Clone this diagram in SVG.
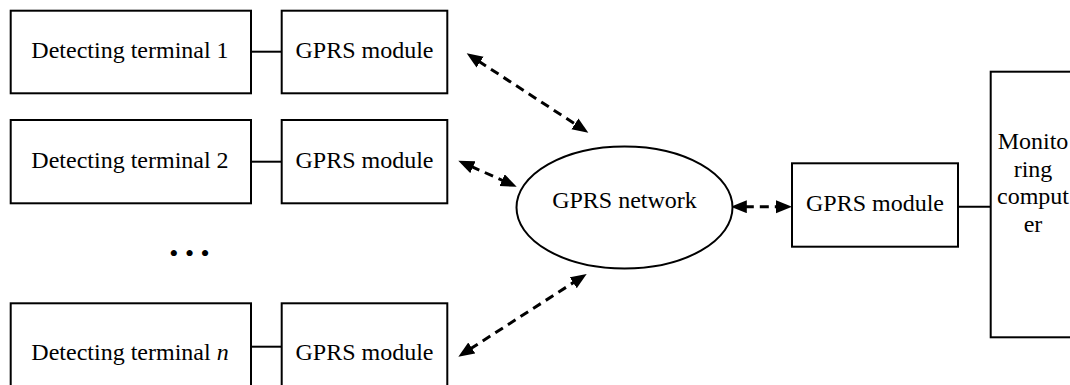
<svg xmlns="http://www.w3.org/2000/svg" width="1070" height="385" viewBox="0 0 1070 385">
<style>
.box{fill:#fff;stroke:#000;stroke-width:2}
.link{stroke:#000;stroke-width:2;fill:none}
.dash{stroke:#000;stroke-width:3;stroke-dasharray:9 6;fill:none;marker-start:url(#ah);marker-end:url(#ah)}
.t{font-family:"Liberation Serif","Times New Roman",serif;font-size:24px;fill:#000;text-anchor:middle}
</style>
<defs>
<marker id="ah" markerUnits="userSpaceOnUse" markerWidth="18" markerHeight="15" refX="2" refY="6.5" orient="auto-start-reverse" viewBox="0 0 18 15">
<path d="M0,0 L16,6.5 L0,13 z" fill="#000"/>
</marker>
</defs>
<rect width="1070" height="385" fill="#fff"/>
<g id="connectors">
<line class="link" x1="251" y1="51.7" x2="281.7" y2="51.7"/>
<line class="link" x1="251" y1="161.7" x2="281.7" y2="161.7"/>
<line class="link" x1="251" y1="346.7" x2="281.7" y2="346.7"/>
<line class="link" x1="958" y1="206.7" x2="990.7" y2="206.7"/>
<line class="dash" x1="478.4" y1="61" x2="576.6" y2="125"/>
<line class="dash" x1="471.1" y1="166.4" x2="503.9" y2="181"/>
<line class="dash" x1="470.1" y1="349.1" x2="574.9" y2="281.6"/>
<line class="dash" x1="744.8" y1="206.7" x2="778" y2="206.7"/>
</g>
<g id="terminal1">
<rect class="box" x="10.7" y="10.7" width="240.3" height="82.6"/>
<text class="t" x="130" y="58.3">Detecting terminal 1</text>
</g>
<g id="gprs1">
<rect class="box" x="281.7" y="10.7" width="165.6" height="82.6"/>
<text class="t" x="364.5" y="58.3">GPRS module</text>
</g>
<g id="terminal2">
<rect class="box" x="10.7" y="120" width="240.3" height="83.3"/>
<text class="t" x="130" y="167.5">Detecting terminal 2</text>
</g>
<g id="gprs2">
<rect class="box" x="281.7" y="120" width="165.6" height="83.3"/>
<text class="t" x="364.5" y="167.5">GPRS module</text>
</g>
<g id="ellipsis">
<text class="t" x="189.5" y="262" style="font-size:26px">• • •</text>
</g>
<g id="terminaln">
<rect class="box" x="10.7" y="303.3" width="240.3" height="100"/>
<text class="t" x="130" y="360">Detecting terminal <tspan font-style="italic">n</tspan></text>
</g>
<g id="gprsn">
<rect class="box" x="281.7" y="303.3" width="165.6" height="100"/>
<text class="t" x="364.5" y="360">GPRS module</text>
</g>
<g id="network">
<ellipse class="box" cx="624.5" cy="207.5" rx="108" ry="61"/>
<text class="t" x="624.5" y="208">GPRS network</text>
</g>
<g id="gprs-center">
<rect class="box" x="792" y="163.3" width="166" height="83.4"/>
<text class="t" x="875" y="211">GPRS module</text>
</g>
<g id="monitor">
<rect class="box" x="990.7" y="71.7" width="100" height="265.6"/>
<text class="t" x="1033" y="149">Monito</text>
<text class="t" x="1033" y="176.5">ring</text>
<text class="t" x="1033" y="204">comput</text>
<text class="t" x="1033" y="231.5">er</text>
</g>
</svg>
